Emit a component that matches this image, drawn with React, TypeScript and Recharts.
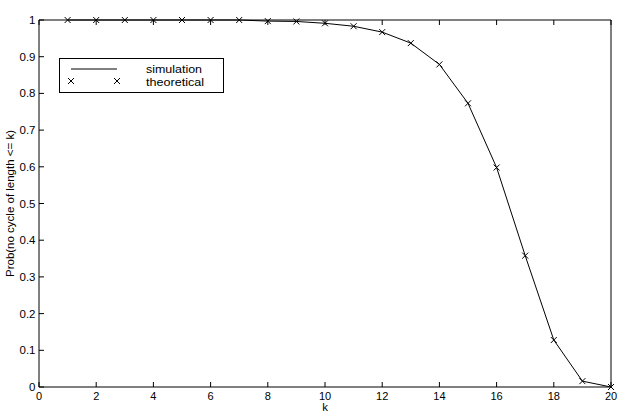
import React from 'react';
import { LineChart, Line, XAxis, YAxis } from 'recharts';

const kValues = [1, 2, 3, 4, 5, 6, 7, 8, 9, 10, 11, 12, 13, 14, 15, 16, 17, 18, 19, 20];
const simulation = [1, 1, 1, 1, 1, 1, 1, 0.997, 0.996, 0.991, 0.983, 0.967, 0.937, 0.879, 0.773, 0.598, 0.358, 0.128, 0.016, 0.0];
const theoretical = [1, 1, 1, 1, 1, 1, 1, 0.997, 0.996, 0.991, 0.983, 0.967, 0.937, 0.879, 0.773, 0.598, 0.358, 0.128, 0.016, 0.0];
const xTicks = [0, 2, 4, 6, 8, 10, 12, 14, 16, 18, 20];
const yTicks = [0, 0.1, 0.2, 0.3, 0.4, 0.5, 0.6, 0.7, 0.8, 0.9, 1];
const yTickLabels = ['0', '0.1', '0.2', '0.3', '0.4', '0.5', '0.6', '0.7', '0.8', '0.9', '1'];
const legendLabels = ['simulation', 'theoretical'];

const data = kValues.map((k, i) => ({ k, simulation: simulation[i], theoretical: theoretical[i] }));

const FONT = '"Liberation Sans", Arial, Helvetica, sans-serif';
const TICK = 5;

const fmtY = (v: number) => {
  const idx = yTicks.findIndex((t) => Math.abs(t - v) < 1e-9);
  return idx >= 0 ? yTickLabels[idx] : String(v);
};

const BottomTick = (p: any) => (
  <g>
    <line x1={p.x} y1={p.y} x2={p.x} y2={p.y - TICK} stroke="#000" strokeWidth={1} />
    <text x={p.x} y={p.y + 12.5} textAnchor="middle" fontSize={11} fontFamily={FONT} fill="#000">
      {p.payload.value}
    </text>
  </g>
);
const TopTick = (p: any) => (
  <line x1={p.x} y1={p.y} x2={p.x} y2={p.y + TICK} stroke="#000" strokeWidth={1} />
);
const LeftTick = (p: any) => (
  <g>
    <line x1={p.x} y1={p.y} x2={p.x + TICK} y2={p.y} stroke="#000" strokeWidth={1} />
    <text x={p.x - 3.5} y={p.y + 4} textAnchor="end" fontSize={11.5} fontFamily={FONT} fill="#000">
      {fmtY(p.payload.value)}
    </text>
  </g>
);
const RightTick = (p: any) => (
  <line x1={p.x} y1={p.y} x2={p.x - TICK} y2={p.y} stroke="#000" strokeWidth={1} />
);

const Cross = (p: any) => {
  const { cx, cy } = p;
  if (cx == null || cy == null) return <g />;
  const s = 3;
  return (
    <g>
      <line x1={cx - s} y1={cy - s} x2={cx + s} y2={cy + s} stroke="#000" strokeWidth={1} />
      <line x1={cx - s} y1={cy + s} x2={cx + s} y2={cy - s} stroke="#000" strokeWidth={1} />
    </g>
  );
};

const LegendBox = () => (
  <g transform="translate(59, 58)">
    <rect x={0.5} y={0.5} width={164} height={34} fill="#fff" stroke="#000" strokeWidth={1} />
    <line x1={12} y1={11} x2={58} y2={11} stroke="#000" strokeWidth={1} />
    <Cross cx={12} cy={23} />
    <Cross cx={58} cy={23} />
    <text x={87} y={14.5} fontSize={11} fontFamily={FONT} fill="#000" textLength={56} lengthAdjust="spacingAndGlyphs">{legendLabels[0]}</text>
    <text x={87} y={27.5} fontSize={11} fontFamily={FONT} fill="#000" textLength={58} lengthAdjust="spacingAndGlyphs">{legendLabels[1]}</text>
  </g>
);

const YLabel = (props: any) => {
  const vb = props.viewBox || {};
  const cy = vb.y + vb.height / 2;
  const cx = 10;
  return (
    <text
      x={cx}
      y={cy}
      transform={`rotate(-90, ${cx}, ${cy})`}
      textAnchor="middle"
      dominantBaseline="central"
      fontSize={11.5}
      fontFamily={FONT}
      fill="#000"
    >
      Prob(no cycle of length &lt;= k)
    </text>
  );
};

const XLabel = (props: any) => {
  const vb = props.viewBox || {};
  return (
    <text x={vb.x + vb.width / 2} y={vb.y + 24} textAnchor="middle" fontSize={11.5} fontFamily={FONT} fill="#000">
      k
    </text>
  );
};

export default function App() {
  return (
    <div style={{ position: 'absolute', left: 0, top: 0, width: 623, height: 415, background: '#fff' }}>
      <LineChart width={623} height={415} data={data} margin={{ top: 19, right: 11, bottom: 0, left: 0 }}>
        <XAxis
          xAxisId="bottom"
          dataKey="k"
          type="number"
          domain={[0, 20]}
          ticks={xTicks}
          interval={0}
          height={28}
          tickSize={0}
          tickMargin={0}
          tickLine={false}
          axisLine={{ stroke: '#000', strokeWidth: 1 }}
          tick={BottomTick}
          label={<XLabel />}
        />
        <XAxis
          xAxisId="top"
          orientation="top"
          dataKey="k"
          type="number"
          domain={[0, 20]}
          ticks={xTicks}
          interval={0}
          height={1}
          tickSize={0}
          tickMargin={0}
          tickLine={false}
          axisLine={{ stroke: '#000', strokeWidth: 1 }}
          tick={TopTick}
        />
        <YAxis
          yAxisId="left"
          type="number"
          domain={[0, 1]}
          ticks={yTicks}
          interval={0}
          width={39}
          tickSize={0}
          tickMargin={0}
          tickLine={false}
          axisLine={{ stroke: '#000', strokeWidth: 1 }}
          tick={LeftTick}
          label={<YLabel />}
        />
        <YAxis
          yAxisId="right"
          orientation="right"
          type="number"
          domain={[0, 1]}
          ticks={yTicks}
          interval={0}
          width={1}
          tickSize={0}
          tickMargin={0}
          tickLine={false}
          axisLine={{ stroke: '#000', strokeWidth: 1 }}
          tick={RightTick}
        />
        <Line
          xAxisId="bottom"
          yAxisId="left"
          type="linear"
          dataKey="simulation"
          stroke="#000"
          strokeWidth={1}
          dot={false}
          isAnimationActive={false}
        />
        <Line
          xAxisId="bottom"
          yAxisId="left"
          type="linear"
          dataKey="theoretical"
          stroke="none"
          dot={<Cross />}
          activeDot={false}
          isAnimationActive={false}
        />
        <LegendBox />
      </LineChart>
    </div>
  );
}
